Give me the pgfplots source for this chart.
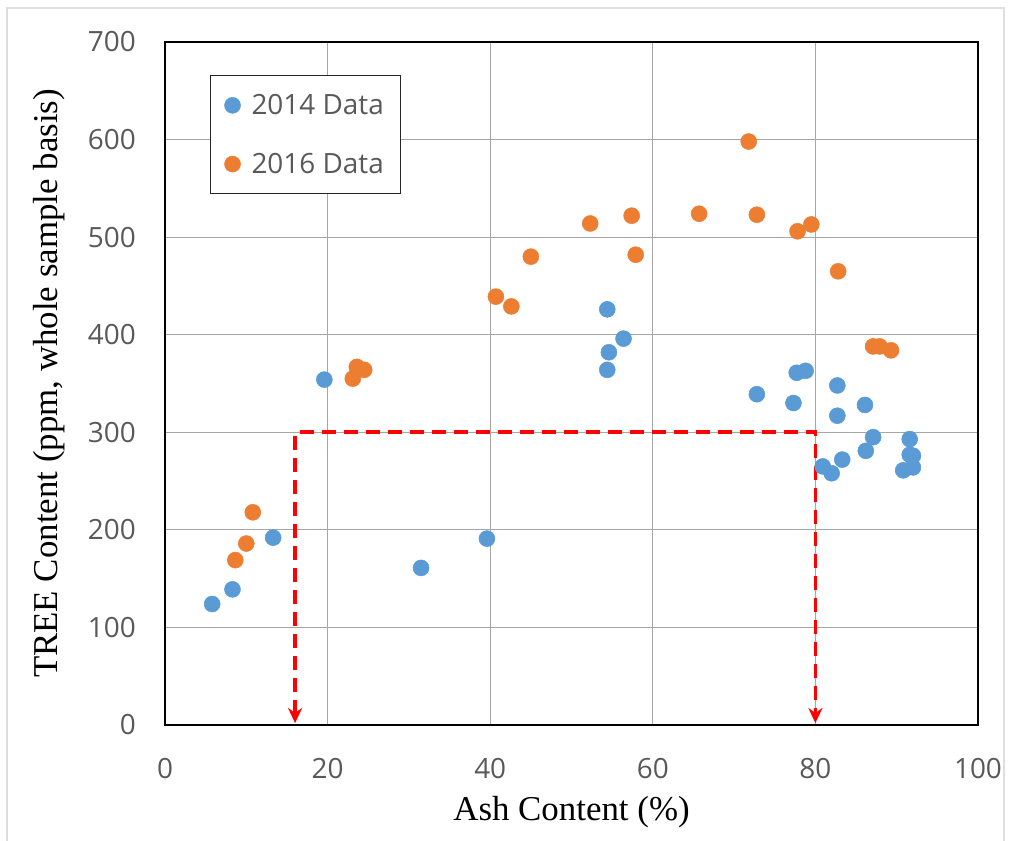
\documentclass[border=0pt]{standalone}
\usepackage{fontspec}
\setmainfont{Liberation Serif}
\newfontfamily\tickfont{Open Sans}
\usepackage{pgfplots}
\pgfplotsset{compat=1.18}
\usetikzlibrary{arrows.meta}
\definecolor{c14}{HTML}{5B9BD5}
\definecolor{c16}{HTML}{ED7D31}
\definecolor{tickgray}{HTML}{595959}
\definecolor{gridgray}{HTML}{A6A6A6}
\begin{document}
\begin{tikzpicture}
\useasboundingbox (-165bp,-116bp) rectangle (845bp,725bp);
\draw[gray!25, line width=1.5bp] (-158bp,-116bp) -- (-158bp,717bp) -- (839bp,717bp) -- (839bp,-116bp);
\begin{axis}[
  at={(0,0)}, anchor=south west,
  scale only axis, width=813bp, height=683bp,
  xmin=0, xmax=100, ymin=0, ymax=700,
  xtick={0,20,...,100}, ytick={0,100,...,700},
  grid=major, major grid style={gridgray, line width=1.2bp},
  axis line style={black, line width=2.5bp},
  major tick length=0pt,
  /pgf/number format/assume math mode=true,
  tick label style={font=\tickfont\fontsize{28}{28}\selectfont, text=tickgray},
  yticklabel style={anchor=east, inner sep=0pt, xshift=-29bp},
  xticklabel style={anchor=north, inner sep=0pt, yshift=-33bp},
  xlabel={Ash Content (\%)},
  ylabel={TREE Content (ppm, whole sample basis)},
  label style={font=\fontsize{35}{35}\selectfont},
  xlabel style={at={(axis description cs:0.5,-0.128)}, anchor=center},
  ylabel style={at={(axis description cs:-0.143,0.5)}, anchor=center},
  legend style={at={(axis description cs:0.0554,0.9517)}, anchor=north west,
    draw=black!85, line width=1bp, fill=white,
    font=\tickfont\fontsize{28}{28}\selectfont, text=tickgray,
    inner xsep=14bp, inner ysep=16bp, row sep=31bp,
    nodes={inner sep=3bp},
    /tikz/every odd column/.append style={column sep=8bp}},
  legend cell align=left,
  legend image code/.code={\draw[#1] plot coordinates {(8bp,0bp)};},
]
\addplot[forget plot, red, line width=3.8bp, dash pattern=on 14bp off 8bp,
  {Stealth[length=15bp,width=14bp]}-{Stealth[length=15bp,width=14bp]}]
  coordinates {(16,2) (16,300) (80,300) (80,2)};
\addplot[only marks, c14, mark=*, mark size=8bp, mark options={solid, draw=c14, fill=c14, line width=0.5bp}] coordinates {
(5.8,124) (8.3,139) (13.3,192) (19.6,354) (31.5,161) (39.6,191)
(54.4,426) (56.4,396) (54.6,382) (54.4,364)
(72.8,339) (77.3,330) (77.7,361) (78.8,363)
(82.7,348) (82.7,317) (86.1,328)
(80.9,265) (82.0,258) (83.3,272) (86.2,281) (87.1,295)
(91.6,293) (91.6,277) (92.0,276) (92.0,264) (90.8,261)
};
\addlegendentry{2014 Data}
\addplot[only marks, c16, mark=*, mark size=8bp, mark options={solid, draw=c16, fill=c16, line width=0.5bp}] coordinates {
(8.65,169) (10.0,186) (10.8,218)
(23.1,355) (23.6,367) (24.5,364)
(40.7,439) (42.6,429) (45.0,480)
(52.3,514) (57.4,522) (57.9,482)
(65.7,524) (71.8,598) (72.8,523)
(77.8,506) (79.5,513) (82.8,465)
(87.1,388) (87.9,388) (89.3,384)
};
\addlegendentry{2016 Data}
\end{axis}
\end{tikzpicture}
\end{document}
